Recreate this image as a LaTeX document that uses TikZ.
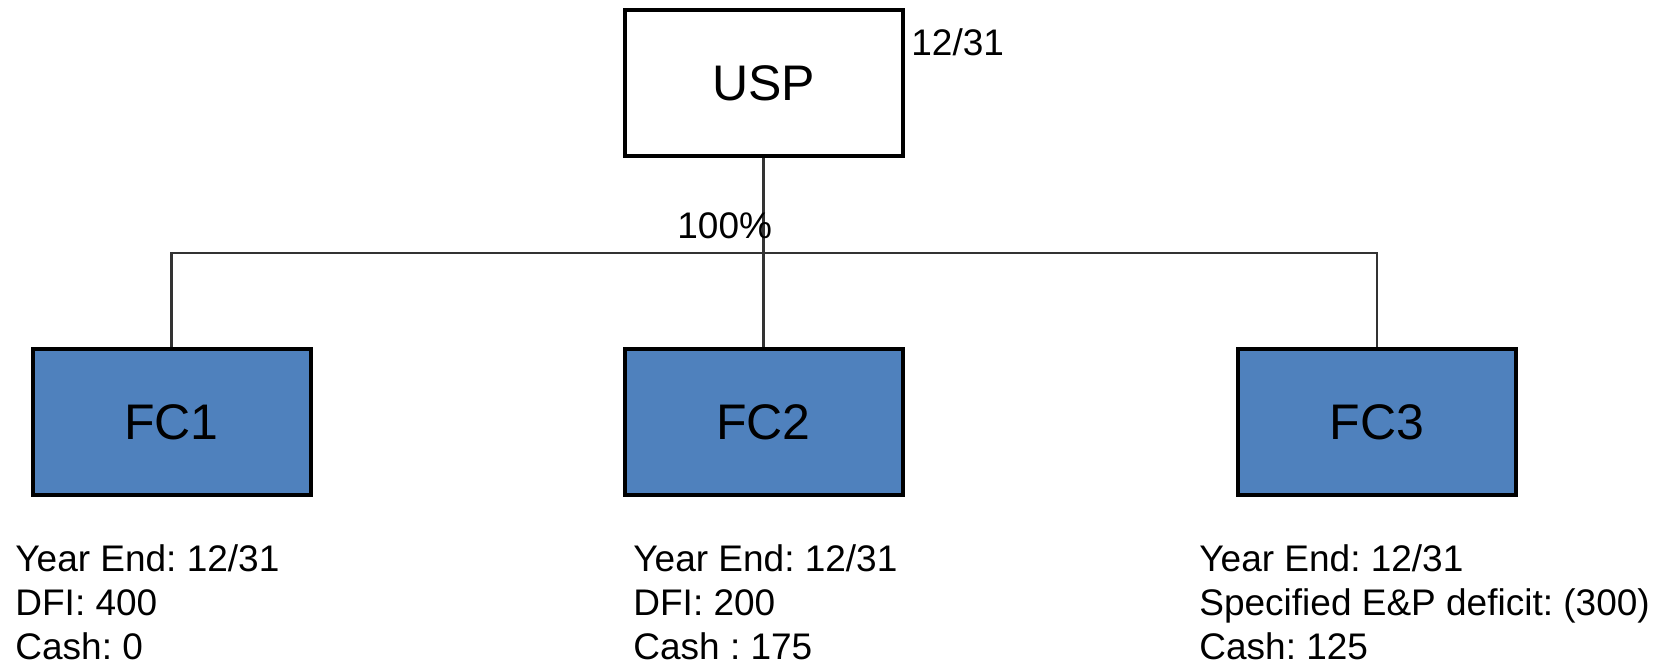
\documentclass[tikz,border=0pt]{standalone}
\usepackage{fontspec}
\setmainfont{Liberation Sans}
\definecolor{fcblue}{RGB}{79,129,189}
\frenchspacing
\begin{document}
\begin{tikzpicture}[x=0.5pt,y=-0.5pt,
  entity/.style={draw=black,line width=2pt,minimum width=139pt,minimum height=73pt,inner sep=0pt,font=\fontsize{25}{30}\selectfont},
  fcbox/.style={entity,fill=fcblue},
  info/.style={anchor=base west,inner sep=0pt,font=\fontsize{18.5}{22}\selectfont\frenchspacing},
  link/.style={draw=black!80,line width=1.1pt}]
\useasboundingbox (0,0) rectangle (1668,665);
\node[entity] (usp) at (763.5,83) {USP};
\node[fcbox] (fc1) at (171.5,422) {FC1};
\node[fcbox] (fc2) at (763.5,422) {FC2};
\node[fcbox] (fc3) at (1377,422) {FC3};
\coordinate (bus) at (766,253);
\draw[link] (usp.south) -- (fc2.north);
\draw[link] (fc1.north) -- (fc1.north |- bus) -- (fc3.north |- bus) -- (fc3.north);
\node[info] (usptag) at (911,55) {12/31};
\node[info] (pct) at (677,238) {100\%};
\node[info] (a1) at (15,571) {Year End: 12/31};
\node[info] (a2) at (15,615) {DFI: 400};
\node[info] (a3) at (15,659) {Cash: 0};
\node[info] (b1) at (633,571) {Year End: 12/31};
\node[info] (b2) at (633,615) {DFI: 200};
\node[info] (b3) at (633,659) {Cash : 175};
\node[info] (c1) at (1199,571) {Year End: 12/31};
\node[info] (c2) at (1199,615) {Specified E\&P deficit: (300)};
\node[info] (c3) at (1199,659) {Cash: 125};
\end{tikzpicture}
\end{document}
